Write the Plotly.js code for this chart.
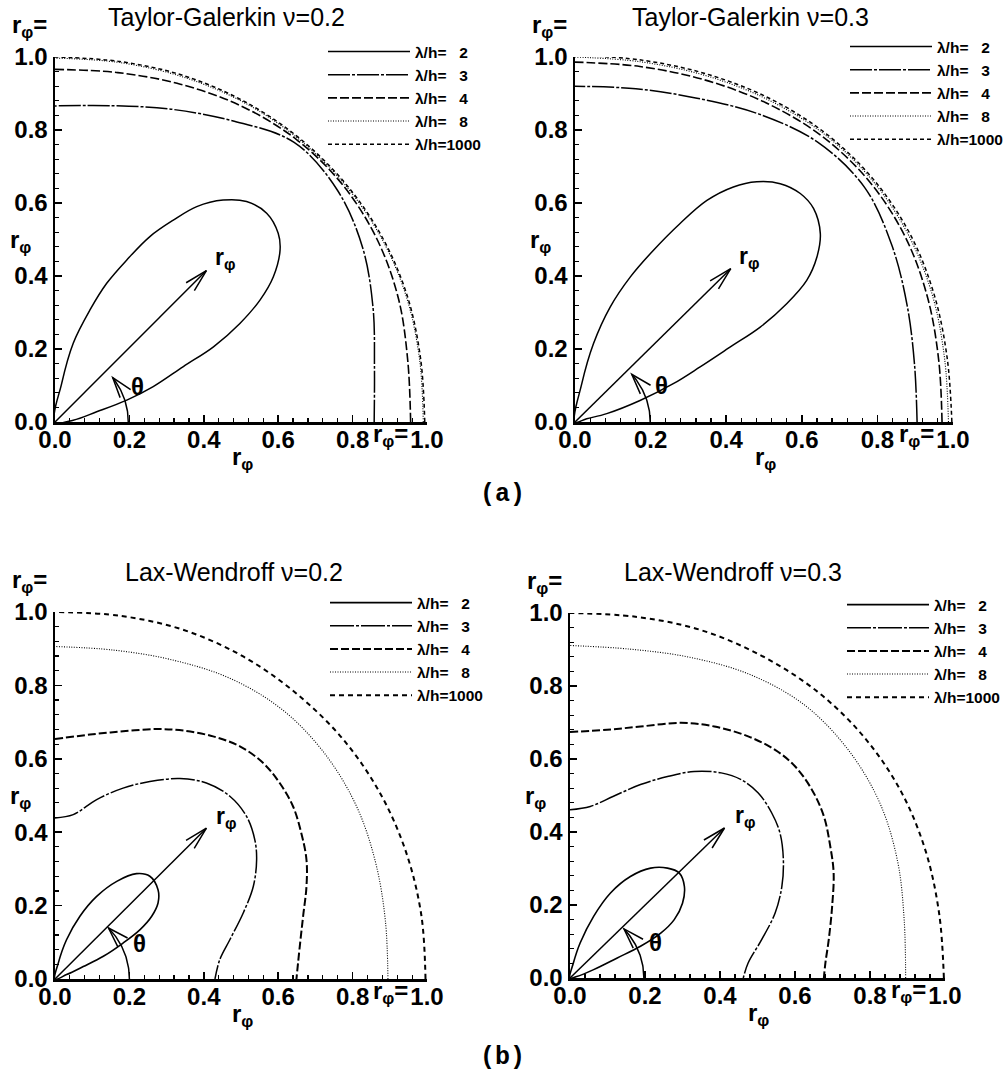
<!DOCTYPE html>
<html>
<head>
<meta charset="utf-8">
<script src="https://cdn.plot.ly/plotly-3.0.1.min.js"></script>
<style>
  html, body { margin: 0; padding: 0; background: #fff; }
  #chart { width: 1004px; height: 1078px; }
</style>
</head>
<body>
<div id="chart"></div>
<script>
// ---------------------------------------------------------------
// Phase-speed polar diagrams r_phi(theta) for two schemes.
// Near-circular curves are given as radius on an angle grid (deg);
// the strongly shaped curves are given directly as x / y samples.
// ---------------------------------------------------------------
const THETA = [0, 10, 20, 30, 40, 50, 60, 70, 80, 90];

const SERIES_NAMES = ['λ/h=\u00a0\u00a0\u00a02', 'λ/h=\u00a0\u00a0\u00a03', 'λ/h=\u00a0\u00a0\u00a04',
                      'λ/h=\u00a0\u00a0\u00a08', 'λ/h=1000'];
const PANEL_TITLES = ['Taylor-Galerkin ν=0.2', 'Taylor-Galerkin ν=0.3',
                      'Lax-Wendroff ν=0.2', 'Lax-Wendroff ν=0.3'];
const GROUP_LABELS = ['(a)', '(b)'];

// Taylor-Galerkin, nu = 0.2
const TG2_L2_X = [0, 0.018, 0.049, 0.094, 0.139, 0.193, 0.255, 0.318, 0.381, 0.452, 0.515, 0.569,
                  0.600, 0.605, 0.587, 0.551, 0.497, 0.426, 0.345, 0.264, 0.193, 0.112, 0.049, 0];
const TG2_L2_Y = [0, 0.106, 0.216, 0.307, 0.380, 0.444, 0.508, 0.553, 0.590, 0.608, 0.604, 0.572,
                  0.517, 0.471, 0.398, 0.334, 0.270, 0.206, 0.152, 0.097, 0.060, 0.028, 0.005, 0];
const TG2_L3_R = [0.858, 0.872, 0.910, 0.955, 0.990, 1.000, 0.953, 0.912, 0.880, 0.866];
const TG2_L4_R = [0.956, 0.963, 0.983, 1.000, 1.010, 1.010, 1.000, 0.985, 0.972, 0.966];
const TG2_L8_R = [0.990, 0.995, 1.005, 1.012, 1.015, 1.015, 1.012, 1.006, 1.000, 0.997];
const TG2_L1000_R = [0.994, 0.998, 1.008, 1.015, 1.018, 1.018, 1.015, 1.010, 1.003, 1.000];

// Taylor-Galerkin, nu = 0.3
const TG3_L2_X = [0, 0.018, 0.049, 0.093, 0.146, 0.207, 0.278, 0.349, 0.419, 0.481, 0.543, 0.596,
                  0.631, 0.649, 0.640, 0.613, 0.560, 0.490, 0.410, 0.331, 0.260, 0.172, 0.084, 0.031, 0];
const TG3_L2_Y = [0, 0.105, 0.215, 0.315, 0.397, 0.470, 0.544, 0.607, 0.644, 0.658, 0.653, 0.626,
                  0.585, 0.516, 0.452, 0.388, 0.324, 0.260, 0.205, 0.151, 0.105, 0.059, 0.023, 0.009, 0];
const TG3_L3_R = [0.905, 0.912, 0.935, 0.968, 1.000, 1.000, 0.974, 0.944, 0.927, 0.920];
const TG3_L4_R = [0.971, 0.977, 0.993, 1.010, 1.020, 1.020, 1.010, 0.998, 0.989, 0.986];
const TG3_L8_R = [0.988, 0.993, 1.007, 1.020, 1.028, 1.028, 1.020, 1.010, 1.002, 1.000];
const TG3_L1000_R = [0.997, 1.000, 1.012, 1.025, 1.032, 1.032, 1.025, 1.015, 1.007, 1.005];

// Lax-Wendroff, nu = 0.2
const LW2_L2_X = [0, 0.009, 0.031, 0.067, 0.112, 0.166, 0.219, 0.255, 0.277, 0.277, 0.260, 0.228,
                  0.183, 0.130, 0.076, 0.031, 0];
const LW2_L2_Y = [0, 0.044, 0.107, 0.171, 0.225, 0.266, 0.287, 0.280, 0.243, 0.207, 0.171, 0.134,
                  0.098, 0.062, 0.034, 0.012, 0];
const LW2_L3_X = [0, 0.049, 0.112, 0.183, 0.255, 0.336, 0.407, 0.470, 0.515, 0.537, 0.542, 0.533,
                  0.506, 0.470, 0.443, 0.430];
const LW2_L3_Y = [0.439, 0.448, 0.489, 0.520, 0.538, 0.546, 0.534, 0.498, 0.443, 0.380, 0.325, 0.252,
                  0.180, 0.107, 0.053, 0];
const LW2_L4_X = [0, 0.094, 0.183, 0.273, 0.345, 0.425, 0.497, 0.559, 0.604, 0.640, 0.662, 0.676,
                  0.676, 0.667, 0.658, 0.649];
const LW2_L4_Y = [0.654, 0.666, 0.675, 0.681, 0.677, 0.661, 0.634, 0.589, 0.534, 0.470, 0.398, 0.325,
                  0.252, 0.171, 0.089, 0];
const LW2_L8_R = [0.895, 0.902, 0.918, 0.937, 0.950, 0.955, 0.945, 0.925, 0.910, 0.906];
const LW2_L1000_R = [0.996, 1.000, 1.005, 1.010, 1.013, 1.013, 1.014, 1.012, 1.005, 1.000];

// Lax-Wendroff, nu = 0.3
const LW3_L2_X = [0, 0.009, 0.027, 0.063, 0.108, 0.161, 0.215, 0.260, 0.291, 0.305, 0.300, 0.278,
                  0.242, 0.188, 0.126, 0.063, 0.018, 0];
const LW3_L2_Y = [0, 0.041, 0.096, 0.169, 0.233, 0.278, 0.301, 0.301, 0.288, 0.251, 0.205, 0.160,
                  0.123, 0.087, 0.055, 0.023, 0.004, 0];
const LW3_L3_X = [0, 0.054, 0.116, 0.188, 0.260, 0.331, 0.403, 0.457, 0.502, 0.538, 0.560, 0.569,
                  0.565, 0.547, 0.511, 0.475, 0.462];
const LW3_L3_Y = [0.461, 0.470, 0.498, 0.530, 0.552, 0.566, 0.562, 0.543, 0.507, 0.452, 0.397, 0.324,
                  0.251, 0.178, 0.105, 0.041, 0];
const LW3_L4_X = [0, 0.099, 0.188, 0.296, 0.385, 0.475, 0.547, 0.600, 0.645, 0.677, 0.694, 0.703,
                  0.699, 0.690, 0.681, 0.677];
const LW3_L4_Y = [0.674, 0.680, 0.689, 0.699, 0.689, 0.662, 0.625, 0.580, 0.516, 0.443, 0.361, 0.288,
                  0.196, 0.105, 0.041, 0];
const LW3_L8_R = [0.895, 0.905, 0.930, 0.955, 0.970, 0.975, 0.960, 0.935, 0.915, 0.911];
const LW3_L1000_R = [0.997, 1.000, 1.010, 1.020, 1.025, 1.025, 1.020, 1.015, 1.005, 1.000];

// ---------------------------------------------------------------
const FONT = 'Liberation Sans, Arial, Helvetica, sans-serif';
const MONO = 'Liberation Mono, Courier New, monospace';
const W = 1004, H = 1078;
const PX = px => px / W;
const PY = py => 1 - py / H;
const DEG = Math.PI / 180;

function fromPolar(r) {
  return {
    x: r.map((v, i) => v * Math.cos(THETA[i] * DEG)),
    y: r.map((v, i) => v * Math.sin(THETA[i] * DEG))
  };
}

const TOP_STYLE = [
  { dash: 'solid', width: 1.5 },
  { dash: '22px,2px,3px,2px', width: 1.5 },
  { dash: '9px,3px', width: 1.6 },
  { dash: '1px,1.5px', width: 1.1 },
  { dash: '4px,3px', width: 1.5 }
];
const BOTTOM_STYLE = [
  { dash: 'solid', width: 1.6 },
  { dash: '24px,2px,3px,2px', width: 1.5 },
  { dash: '8px,3px', width: 2.0 },
  { dash: '1px,1.5px', width: 1.1 },
  { dash: '5px,4px', width: 2.0 }
];

// Panel frames: axis spans in pixels, legend and decoration placement.
const PANELS = [
  {
    curves: [{ x: TG2_L2_X, y: TG2_L2_Y }, fromPolar(TG2_L3_R), fromPolar(TG2_L4_R),
             fromPolar(TG2_L8_R), fromPolar(TG2_L1000_R)],
    style: TOP_STYLE, x0: 55, x1: 427, y0: 422, y1: 57,
    titlePos: [226, 17], legendPos: [323, 35],
    tip: [0.407, 0.415], arcR: 0.197, arcEnd: 38,
    rLabel: [0.456, 0.449], tLabel: [0.223, 0.097]
  },
  {
    curves: [{ x: TG3_L2_X, y: TG3_L2_Y }, fromPolar(TG3_L3_R), fromPolar(TG3_L4_R),
             fromPolar(TG3_L8_R), fromPolar(TG3_L1000_R)],
    style: TOP_STYLE, x0: 575, x1: 953, y0: 422, y1: 57,
    titlePos: [750, 17], legendPos: [845, 30],
    tip: [0.412, 0.420], arcR: 0.199, arcEnd: 41,
    rLabel: [0.459, 0.452], tLabel: [0.230, 0.100]
  },
  {
    curves: [{ x: LW2_L2_X, y: LW2_L2_Y }, { x: LW2_L3_X, y: LW2_L3_Y }, { x: LW2_L4_X, y: LW2_L4_Y },
             fromPolar(LW2_L8_R), fromPolar(LW2_L1000_R)],
    style: BOTTOM_STYLE, x0: 55, x1: 427, y0: 979, y1: 612,
    titlePos: [234, 572], legendPos: [325, 586],
    tip: [0.407, 0.411], arcR: 0.200, arcEnd: 44,
    rLabel: [0.461, 0.439], tLabel: [0.228, 0.098]
  },
  {
    curves: [{ x: LW3_L2_X, y: LW3_L2_Y }, { x: LW3_L3_X, y: LW3_L3_Y }, { x: LW3_L4_X, y: LW3_L4_Y },
             fromPolar(LW3_L8_R), fromPolar(LW3_L1000_R)],
    style: BOTTOM_STYLE, x0: 570, x1: 945, y0: 978, y1: 613,
    titlePos: [733, 572], legendPos: [842, 588],
    tip: [0.412, 0.411], arcR: 0.197, arcEnd: 43,
    rLabel: [0.466, 0.443], tLabel: [0.228, 0.096]
  }
];

const traces = [];
const layout = {
  width: W, height: H,
  margin: { l: 0, r: 0, t: 0, b: 0, autoexpand: false },
  paper_bgcolor: '#ffffff',
  plot_bgcolor: 'rgba(0,0,0,0)',
  showlegend: true,
  annotations: [],
  shapes: []
};

function openHead(xr, yr, tx, ty, dirDeg, len, half) {
  const back = (dirDeg + 180) * DEG;
  const a1 = back + half * DEG, a2 = back - half * DEG;
  return {
    type: 'path', xref: xr, yref: yr, layer: 'above',
    path: `M${tx + len * Math.cos(a1)},${ty + len * Math.sin(a1)} L${tx},${ty} ` +
          `L${tx + len * Math.cos(a2)},${ty + len * Math.sin(a2)}`,
    line: { color: '#000', width: 1.5 }
  };
}

PANELS.forEach((p, i) => {
  const sfx = i === 0 ? '' : String(i + 1);
  const xr = 'x' + sfx, yr = 'y' + sfx;
  const lg = 'legend' + sfx;

  p.curves.forEach((c, k) => {
    traces.push({
      type: 'scatter', mode: 'lines',
      x: c.x, y: c.y,
      xaxis: xr, yaxis: yr, legend: lg,
      name: SERIES_NAMES[k],
      line: { color: '#000', width: p.style[k].width, dash: p.style[k].dash,
              shape: 'spline', smoothing: 1 },
      hoverinfo: 'skip'
    });
  });

  // theta arc
  const ax = [], ay = [];
  for (let a = 0; a <= p.arcEnd; a += 1) {
    ax.push(p.arcR * Math.cos(a * DEG));
    ay.push(p.arcR * Math.sin(a * DEG));
  }
  traces.push({
    type: 'scatter', mode: 'lines', x: ax, y: ay, xaxis: xr, yaxis: yr,
    showlegend: false, hoverinfo: 'skip',
    line: { color: '#000', width: 1.5 }
  });

  const axisBase = {
    range: [0, 1], autorange: false, fixedrange: true,
    showgrid: false, zeroline: false,
    showline: true, linecolor: '#000', linewidth: 2.5,
    ticks: 'inside', ticklen: 7, tickwidth: 1.5, tickcolor: '#000',
    tickmode: 'linear', tick0: 0, dtick: 0.2, tickformat: '.1f',
    minor: { tickmode: 'linear', tick0: 0, dtick: 0.04, ticks: 'inside',
             ticklen: 4, tickwidth: 1.2, tickcolor: '#000', showgrid: false },
    tickfont: { family: FONT, size: 24, color: '#000', weight: 'bold' }
  };
  layout['xaxis' + sfx] = Object.assign({}, axisBase, {
    domain: [PX(p.x0), PX(p.x1)], anchor: yr, ticklabelstandoff: -5
  });
  layout['yaxis' + sfx] = Object.assign({}, axisBase, {
    domain: [PY(p.y0), PY(p.y1)], anchor: xr
  });

  layout[lg] = {
    x: PX(p.legendPos[0]), y: PY(p.legendPos[1]), xanchor: 'left', yanchor: 'top',
    bgcolor: 'rgba(0,0,0,0)', borderwidth: 0, itemwidth: 82, tracegroupgap: 0,
    traceorder: 'normal',
    font: { family: FONT, size: 15.5, color: '#000', weight: 'bold' }
  };

  const ann = layout.annotations;
  const lab = { family: FONT, size: 24, color: '#000', weight: 'bold' };
  // panel title
  ann.push({ xref: 'paper', yref: 'paper', x: PX(p.titlePos[0]), y: PY(p.titlePos[1]),
             xanchor: 'center', yanchor: 'middle', showarrow: false, text: PANEL_TITLES[i],
             font: { family: FONT, size: 25, color: '#000' } });
  // axis labels
  ann.push({ xref: xr + ' domain', yref: yr + ' domain', x: 0.503, y: -0.10,
             xanchor: 'center', yanchor: 'middle', showarrow: false,
             text: 'r<sub>φ</sub>', font: lab });
  ann.push({ xref: xr + ' domain', yref: yr + ' domain', x: -0.092, y: 0.495,
             xanchor: 'center', yanchor: 'middle', showarrow: false,
             text: 'r<sub>φ</sub>', font: lab });
  ann.push({ xref: xr + ' domain', yref: yr + ' domain', x: -0.068, y: 1.072, yshift: 4,
             xanchor: 'center', yanchor: 'middle', showarrow: false,
             text: 'r<sub>φ</sub>=', font: lab });
  ann.push({ xref: xr + ' domain', yref: yr + ' domain', x: 1, y: -0.036, xshift: -17,
             xanchor: 'right', yanchor: 'middle', showarrow: false,
             text: 'r<sub>φ</sub>=', font: lab });
  // illustration labels
  ann.push({ xref: xr, yref: yr, x: p.rLabel[0], y: p.rLabel[1],
             xanchor: 'center', yanchor: 'middle', showarrow: false,
             text: 'r<sub>φ</sub>', font: { family: FONT, size: 23, color: '#000', weight: 'bold' } });
  ann.push({ xref: xr, yref: yr, x: p.tLabel[0], y: p.tLabel[1],
             xanchor: 'center', yanchor: 'middle', showarrow: false,
             text: 'θ', font: { family: FONT, size: 24, color: '#000', weight: 'bold' } });

  // r_phi arrow
  const dir = Math.atan2(p.tip[1], p.tip[0]) / DEG;
  layout.shapes.push({ type: 'line', xref: xr, yref: yr, x0: 0, y0: 0, x1: p.tip[0], y1: p.tip[1],
                       line: { color: '#000', width: 1.5 }, layer: 'above' });
  layout.shapes.push(openHead(xr, yr, p.tip[0], p.tip[1], dir, 0.064, 14));
  // theta arc head
  const ex = p.arcR * Math.cos(p.arcEnd * DEG), ey = p.arcR * Math.sin(p.arcEnd * DEG);
  layout.shapes.push(openHead(xr, yr, ex, ey, p.arcEnd + 90, 0.058, 18));
});

// group captions
layout.annotations.push({ xref: 'paper', yref: 'paper', x: PX(502), y: PY(494),
  xanchor: 'center', yanchor: 'middle', showarrow: false, text: GROUP_LABELS[0],
  font: { family: MONO, size: 25, color: '#000', weight: 'bold' } });
layout.annotations.push({ xref: 'paper', yref: 'paper', x: PX(502), y: PY(1057),
  xanchor: 'center', yanchor: 'middle', showarrow: false, text: GROUP_LABELS[1],
  font: { family: MONO, size: 25, color: '#000', weight: 'bold' } });

Plotly.newPlot('chart', traces, layout, { staticPlot: true, displayModeBar: false });
</script>
</body>
</html>
